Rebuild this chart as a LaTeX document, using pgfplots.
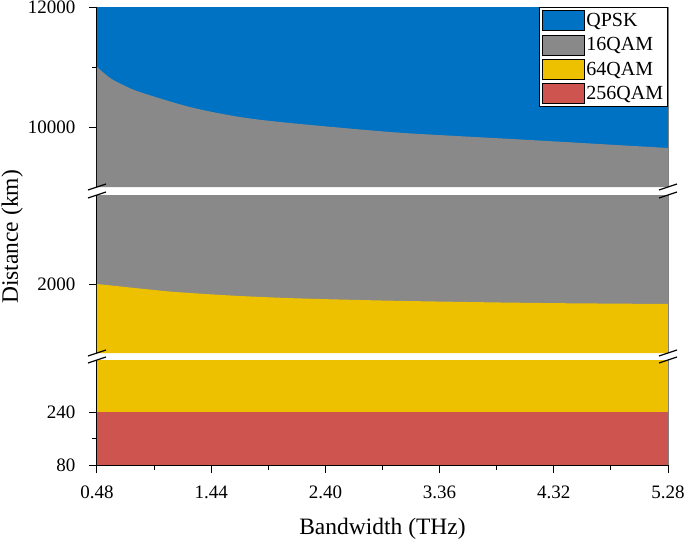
\documentclass[border=0pt]{standalone}
\usepackage{fontspec}
\setmainfont{Liberation Serif}
\usepackage{pgfplots}
\pgfplotsset{compat=1.18}
\definecolor{cQPSK}{RGB}{0,114,195}
\definecolor{cSixteen}{RGB}{137,137,137}
\definecolor{cSixtyFour}{RGB}{237,192,0}
\definecolor{cTwoFiftySix}{RGB}{205,84,79}
\pgfplotsset{
  seg/.style={
    scale only axis, width=571pt,
    xmin=0.48, xmax=5.28,
    axis y line*=left,
    axis line style={black, line width=1pt},
    tick align=outside,
    major tick length=8pt, minor tick length=5pt,
    tick style={black, line width=1pt},
    ytick pos=left, xtick pos=bottom,
    scaled y ticks=false,
    /pgf/number format/assume math mode=true,
    tick label style={font=\fontsize{19}{21}\selectfont},
    xticklabel style={yshift=-9pt},
    yticklabel style={xshift=-10pt},
  },
}
\begin{document}
\begin{tikzpicture}
\useasboundingbox (-97pt,-74pt) rectangle (588pt,465pt);
% ---------- bottom segment ----------
\begin{axis}[seg, at={(0pt,0pt)}, anchor=south west, height=105pt,
  ymin=80, ymax=397,
  axis x line*=bottom,
  xtick={0.48,1.44,2.40,3.36,4.32,5.28},
  xticklabels={0.48,1.44,2.40,3.36,4.32,5.28},
  minor x tick num=1,
  ytick={80,240}, yticklabels={80,240}, minor ytick={160}]
\addplot[fill=cSixtyFour, draw=none] coordinates {(0.48,400) (5.28,400)} \closedcycle;
\addplot[fill=cTwoFiftySix, draw=none] coordinates {(0.48,240) (5.28,240)} \closedcycle;
\end{axis}
% ---------- middle segment ----------
\begin{axis}[seg, at={(0pt,112pt)}, anchor=south west, height=158pt,
  ymin=1310, ymax=2890,
  axis x line=none,
  ytick={2000}, yticklabels={2000}]
\addplot[fill=cSixteen, draw=none] coordinates {(0.48,3000) (5.28,3000)} \closedcycle;
\addplot[fill=cSixtyFour, draw=none, smooth] coordinates {
 (0.48,2000) (0.96,1940) (1.20,1915) (1.68,1880) (2.20,1855) (2.95,1833)
 (3.60,1820) (4.00,1813) (4.47,1807) (5.28,1800)} \closedcycle;
\end{axis}
% ---------- top segment ----------
\begin{axis}[seg, at={(0pt,278pt)}, anchor=south west, height=180pt,
  ymin=9000, ymax=12000,
  axis x line=none,
  ytick={10000,12000}, yticklabels={10000,12000}, minor ytick={11000},
  legend style={at={(1,1)}, anchor=north east, draw=black, line width=0.8pt,
    fill=white, font=\fontsize{20}{22}\selectfont, inner sep=3pt,
    row sep=3.5pt, nodes={inner sep=1.5pt}},
  legend cell align=left,
  legend image code/.code={\draw[#1, draw=black, line width=0.7pt] (0pt,-10pt) rectangle (42pt,10pt);}]
\addplot[fill=cQPSK, draw=none, forget plot] coordinates {(0.48,12500) (5.28,12500)} \closedcycle;
\addplot[fill=cSixteen, draw=none, forget plot, smooth] coordinates {
 (0.48,11000) (0.59,10817) (0.70,10700) (0.84,10583) (1.26,10333) (1.68,10167)
 (2.10,10067) (2.94,9917) (3.50,9850) (4.12,9783) (5.28,9650)} \closedcycle;
\addlegendimage{fill=cQPSK}\addlegendentry{QPSK}
\addlegendimage{fill=cSixteen}\addlegendentry{16QAM}
\addlegendimage{fill=cSixtyFour}\addlegendentry{64QAM}
\addlegendimage{fill=cTwoFiftySix}\addlegendentry{256QAM}
\end{axis}
% right edge and break marks
\draw[gray, line width=0.6pt] (571pt,0pt) -- (571pt,105pt);
\draw[gray, line width=0.6pt] (571pt,112pt) -- (571pt,270pt);
\draw[gray, line width=0.6pt] (571pt,278pt) -- (571pt,458pt);
\foreach \yy in {105,112,270,278}{
  \draw[black, line width=1.2pt] (-9pt,\yy pt-3pt) -- (9pt,\yy pt+3pt);
  \draw[black, line width=1.2pt] (562pt,\yy pt-3pt) -- (580pt,\yy pt+3pt);
}
\node[anchor=base, font=\fontsize{23.5}{25}\selectfont] at (285.5pt,-69pt) {Bandwidth (THz)};
\node[anchor=base, rotate=90, font=\fontsize{23.5}{25}\selectfont] at (-79pt,228pt) {Distance (km)};
\end{tikzpicture}
\end{document}
